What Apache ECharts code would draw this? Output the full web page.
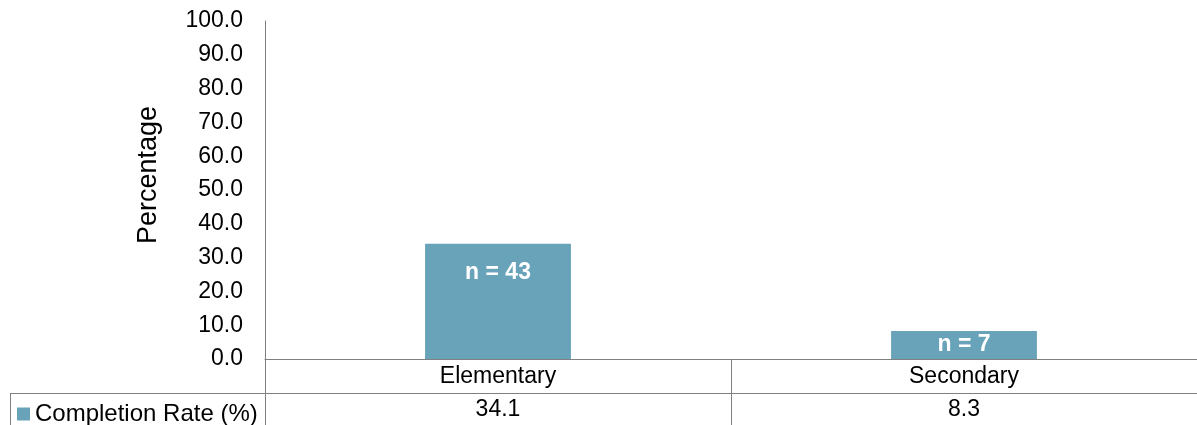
<!DOCTYPE html>
<html>
<head>
<meta charset="utf-8">
<script src="https://cdn.jsdelivr.net/npm/echarts@6/dist/echarts.min.js"></script>
<style>html,body{margin:0;padding:0;background:#fff}#c{width:1197px;height:425px}</style>
</head>
<body>
<div id="c"></div>
<script>
const categories = ['Elementary', 'Secondary'];
const completionRate = [34.1, 8.3];
const sampleLabels = ['n = 43', 'n = 7'];
const seriesName = 'Completion Rate (%)';
const yTicks = { min: 0, max: 100, interval: 10 };

const FONT = '"Liberation Sans", Arial, sans-serif';
const BAR = '#68A3B9';
const LINE = '#808080';

const chart = echarts.init(document.getElementById('c'));
const labelPositions = ['insideTop', 'inside'];
chart.setOption({
  animation: false,
  textStyle: { fontFamily: FONT },
  grid: { left: 265, right: 0, top: 21, bottom: 66, containLabel: false },
  legend: {
    data: [seriesName], left: 12, top: 397, itemWidth: 13, itemHeight: 13, icon: 'rect',
    itemGap: 4, textStyle: { fontFamily: FONT, fontSize: 24, color: '#000', padding: [2, 0, 0, 0] }, selectedMode: false
  },
  xAxis: [
    {
      type: 'category', data: categories, position: 'bottom',
      axisLine: { show: true, lineStyle: { color: LINE, width: 1 } },
      axisTick: { show: true, length: 66, lineStyle: { color: LINE } },
      axisLabel: { fontFamily: FONT, fontSize: 23, color: '#000', margin: 6 }
    },
    {
      type: 'category', data: categories, position: 'bottom', offset: 34,
      axisLine: { show: true, lineStyle: { color: LINE, width: 1 } },
      axisTick: { show: false },
      axisLabel: { fontFamily: FONT, fontSize: 23, color: '#000', margin: 5,
        formatter: (v, i) => completionRate[i].toFixed(1) }
    }
  ],
  yAxis: {
    type: 'value', min: yTicks.min, max: yTicks.max, interval: yTicks.interval,
    name: 'Percentage', nameLocation: 'middle', nameRotate: 90, nameGap: 103,
    nameTextStyle: { fontFamily: FONT, fontSize: 27, color: '#000', padding: [0, 0, 0, 30] },
    axisLine: { show: true, lineStyle: { color: LINE, width: 1 } },
    axisTick: { show: false },
    splitLine: { show: false },
    axisLabel: { fontFamily: FONT, fontSize: 23, color: '#000', margin: 22, padding: [3, 0, 0, 0],
      formatter: v => v.toFixed(1) }
  },
  series: [{
    name: seriesName, type: 'bar', xAxisIndex: 0, barWidth: '31.3%',
    itemStyle: { color: BAR },
    data: completionRate.map((v, i) => ({
      value: v,
      label: { show: true, position: labelPositions[i], distance: 17, formatter: sampleLabels[i],
        color: '#fff', fontWeight: 'bold', fontSize: 23, fontFamily: FONT }
    }))
  }],
  graphic: [
    { type: 'line', shape: { x1: 10, y1: 393.5, x2: 265, y2: 393.5 }, style: { stroke: LINE, lineWidth: 1 } },
    { type: 'line', shape: { x1: 10.5, y1: 393, x2: 10.5, y2: 425 }, style: { stroke: LINE, lineWidth: 1 } },
    { type: 'line', shape: { x1: 265.5, y1: 359, x2: 265.5, y2: 425 }, style: { stroke: LINE, lineWidth: 1 } }
  ]
});
</script>
</body>
</html>
